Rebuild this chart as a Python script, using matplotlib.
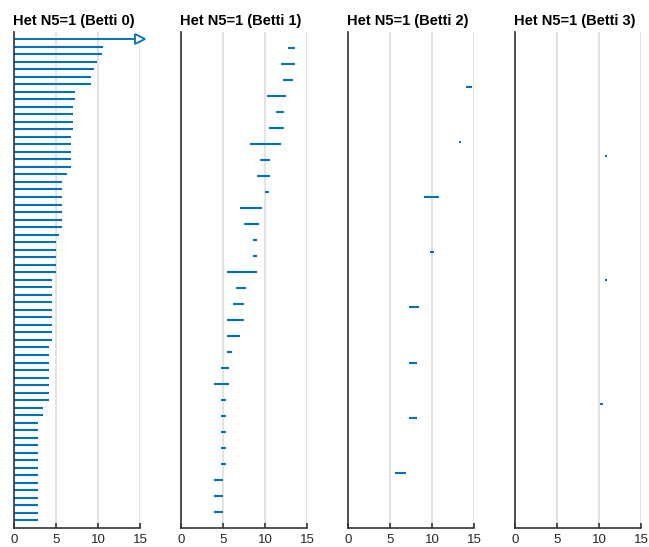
import numpy as np
import matplotlib
matplotlib.use('Agg')
import matplotlib.pyplot as plt

plt.rcParams['font.family'] = ['Liberation Sans', 'DejaVu Sans']

# Betti 0: every bar is born at 0, first one never dies
betti0_death = [np.inf, 10.56, 10.44, 9.84, 9.48, 9.2, 9.2, 7.22, 7.22,
                6.98, 6.98, 6.98, 6.98,
                6.75, 6.75, 6.75, 6.75, 6.75, 6.35,
                5.75, 5.75, 5.75, 5.75, 5.75, 5.75, 5.75, 5.36,
                5.0, 5.0, 5.0, 5.0, 5.0,
                4.48, 4.48, 4.48, 4.48, 4.48, 4.48, 4.48, 4.48, 4.48,
                4.13, 4.13, 4.13, 4.13, 4.13, 4.13, 4.13, 4.13,
                3.45, 3.45,
                2.82, 2.82, 2.82, 2.82, 2.82, 2.82, 2.82,
                2.82, 2.82, 2.82, 2.82, 2.82, 2.82, 2.82]
betti0_birth = [0.0] * len(betti0_death)

betti1_birth = [12.78, 11.9, 12.18, 10.28, 11.31, 10.44, 8.25, 9.4, 9.05, 10.04,
                7.02, 7.5, 8.6, 8.6, 5.52, 6.55, 6.15, 5.52, 5.52, 5.52,
                4.76, 3.89, 4.76, 4.76, 4.76, 4.76, 4.76, 3.89, 3.89, 3.89]
betti1_death = [13.61, 13.61, 13.37, 12.5, 12.26, 12.26, 11.87, 10.6, 10.6, 10.48,
                9.64, 9.29, 9.0, 9.0, 9.0, 7.74, 7.46, 7.46, 6.98, 6.11,
                5.71, 5.71, 5.3, 5.3, 5.3, 5.3, 5.3, 5.0, 5.0, 5.0]

betti2_birth = [14.05, 13.2, 9.05, 9.75, 7.3, 7.3, 7.3, 5.55]
betti2_death = [14.75, 13.45, 10.85, 10.2, 8.45, 8.2, 8.2, 6.95]

betti3_birth = [10.75, 10.75, 10.12]
betti3_death = [10.98, 11.0, 10.48]

titles = ['Het N5=1 (Betti 0)', 'Het N5=1 (Betti 1)',
          'Het N5=1 (Betti 2)', 'Het N5=1 (Betti 3)']
xticks = [0, 5, 10, 15]
xmax = 15

panels = [(betti0_birth, betti0_death), (betti1_birth, betti1_death),
          (betti2_birth, betti2_death), (betti3_birth, betti3_death)]

blue = '#0072BD'
fig = plt.figure(figsize=(6.49, 5.47), dpi=100)
lefts = [14 / 649, 181 / 649, 348 / 649, 515 / 649]
bottom = 1 - 528 / 547
height = (528 - 31.5) / 547
width = 126 / 649

for k, (birth, death) in enumerate(panels):
    ax = fig.add_axes([lefts[k], bottom, width, height])
    n = len(birth)
    for i in range(n):
        y = i + 1
        b = birth[i]
        d = death[i]
        if np.isinf(d):
            ax.plot([b, xmax], [y, y], color=blue, lw=1.4, solid_capstyle='butt')
            ax.plot([xmax], [y], marker='>', ms=7, mfc='white', mec=blue,
                    mew=1.3, clip_on=False, zorder=5)
        else:
            ax.plot([b, d], [y, y], color=blue, lw=1.5, solid_capstyle='butt')
    ax.set_xlim(0, xmax)
    ax.set_ylim(n + 1, 0)
    ax.set_xticks(xticks)
    ax.set_yticks([])
    ax.grid(axis='x', color='#dedede', lw=1.2)
    ax.set_axisbelow(True)
    for s in ['top', 'right']:
        ax.spines[s].set_visible(False)
    for s in ['left', 'bottom']:
        ax.spines[s].set_color('#333333')
        ax.spines[s].set_linewidth(1.2)
    ax.tick_params(axis='x', direction='in', length=3.5, width=1.2,
                   color='#333333', labelsize=9.5, labelcolor='#262626', pad=4)
    ax.set_title(titles[k], loc='left', fontsize=10.5, fontweight='bold',
                 pad=5, x=-0.005)

fig.savefig('out.png', dpi=100)
